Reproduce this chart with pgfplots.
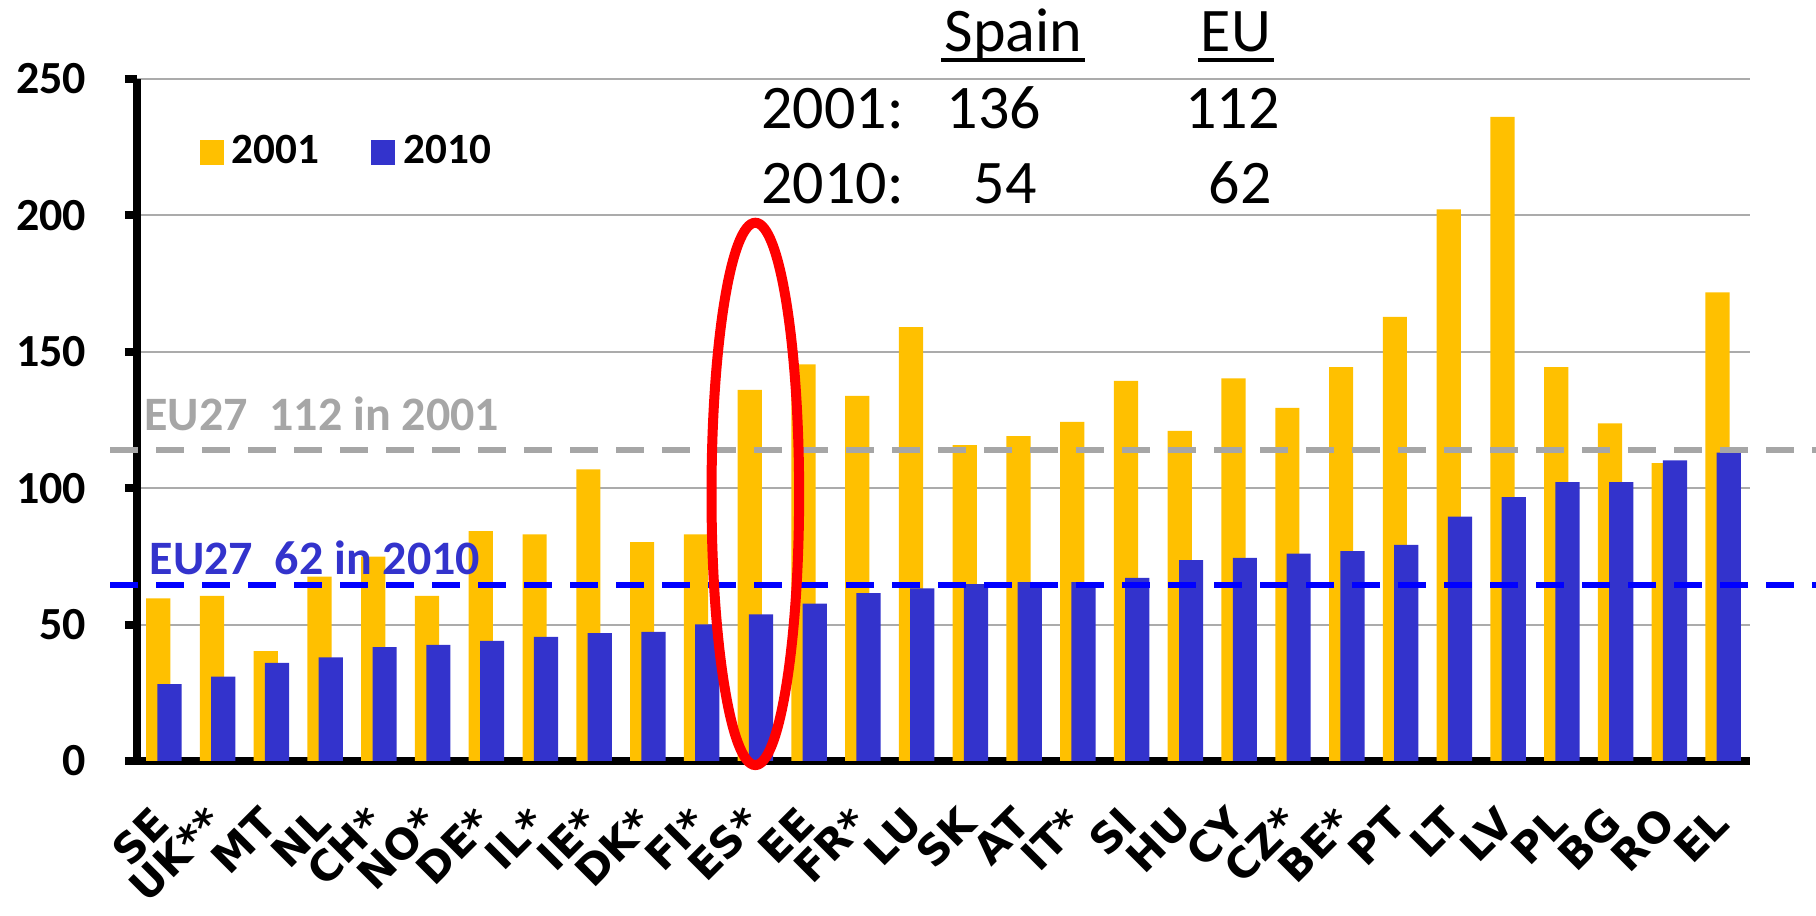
\documentclass[border=0pt]{standalone}
\usepackage{fontspec}
\setmainfont{Carlito}
\newfontfamily\labelfont{DejaVu Sans}
\usepackage{pgfplots}
\usepackage{pgfplotstable}
\pgfplotsset{compat=1.18}
\definecolor{barorange}{HTML}{FFC000}
\definecolor{barblue}{HTML}{3333CC}
\definecolor{refgray}{HTML}{A6A6A6}
\definecolor{gridgray}{HTML}{ABABAB}

% x  2001   2010
\pgfplotstableread{
x y01 y10
0 59.6 28.2
1 60.5 30.9
2 40.3 36.0
3 67.6 38.0
4 74.9 41.7
5 60.5 42.6
6 84.3 44.0
7 83.1 45.5
8 106.9 46.9
9 80.2 47.3
10 83.1 50.1
11 136.0 53.7
12 145.4 57.7
13 133.8 61.5
14 159.0 63.3
15 115.8 64.8
16 119.1 65.6
17 124.3 65.6
18 139.3 67.1
19 121.0 73.6
20 140.3 74.5
21 129.4 76.0
22 144.4 76.9
23 162.8 79.2
24 202.2 89.6
25 236.1 96.7
26 144.4 102.2
27 123.8 102.2
28 109.2 110.2
29 171.8 113.0
}\datatable

\begin{document}
\begin{tikzpicture}
\begin{axis}[
  scale only axis,
  width=403.25pt, height=170.5pt,
  xmin=-0.5, xmax=29.5, ymin=0, ymax=250,
  clip=false,
  axis x line*=bottom, axis y line*=left,
  x axis line style={line width=2pt},
  y axis line style={line width=2pt},
  ytick={0,50,100,150,200,250},
  xtick={0,...,29},
  xticklabels={SE,UK**,MT,NL,CH*,NO*,DE*,IL*,IE*,DK*,FI*,ES*,EE,FR*,LU,SK,AT,IT*,SI,HU,CY,CZ*,BE*,PT,LT,LV,PL,BG,RO,EL},
  xtick style={draw=none},
  ytick style={line width=2pt, black},
  tick align=outside,
  major tick length=3pt,
  ymajorgrids,
  grid style={gridgray, line width=0.5pt},
  /pgf/number format/assume math mode=true,
  yticklabel style={inner sep=0pt, anchor=east, xshift=-9.5pt, font=\fontsize{11.5}{13}\selectfont\bfseries},
  xticklabel style={inner sep=0pt, xshift=-0.5pt, yshift=-10.5pt, rotate=45, anchor=east, font=\labelfont\bfseries\fontsize{10.5}{12}\selectfont},
  legend columns=2,
  legend style={draw=none, fill=none, at={(0.0385,0.892)}, anchor=west, inner sep=0pt,
    font=\fontsize{10.8}{12}\selectfont\bfseries,
    /tikz/every even column/.append style={column sep=11pt}},
  legend image code/.code={\fill[#1] (0pt,-3.2pt) rectangle (6pt,3.2pt);},
]
\addplot[ybar, bar width=0.45, bar shift=-0.105, fill=barorange, draw=none] table[x=x, y=y01] {\datatable};
\addlegendentry{2001}
\addplot[ybar, bar width=0.45, bar shift=0.105, fill=barblue, draw=none] table[x=x, y=y10] {\datatable};
\addlegendentry{2010}

\addplot[refgray, line width=1.7pt, dash pattern=on 6.9pt off 4.6pt, forget plot] coordinates {(-1.0,114) (30.75,114)};
\addplot[blue, line width=1.7pt, dash pattern=on 6.9pt off 4.6pt, forget plot] coordinates {(-1.0,64.5) (30.75,64.5)};

\node[anchor=base west, inner sep=0pt, text=refgray, font=\fontsize{12}{14}\selectfont\bfseries] at (axis cs:-0.38,121.3) {EU27\ \ 112 in 2001};
\node[anchor=base west, inner sep=0pt, text=barblue, font=\fontsize{12}{14}\selectfont\bfseries] at (axis cs:-0.28,68.2) {EU27\ \ 62 in 2010};

\draw[red, line width=2.5pt] (axis cs:11,97.9) ellipse [x radius=0.815, y radius=99.4];

\begin{scope}[every node/.style={inner sep=0pt, font=\fontsize{15.5}{18}\selectfont}]
\node[anchor=base] (sp) at (axis cs:15.80,259.9) {Spain};
\node[anchor=base] (eu) at (axis cs:19.94,259.9) {EU};
\draw[line width=1pt] ([xshift=-0.6pt,yshift=-2pt]sp.base west) -- ([xshift=0.6pt,yshift=-2pt]sp.base east);
\draw[line width=1pt] ([xshift=-0.6pt,yshift=-2pt]eu.base west) -- ([xshift=0.6pt,yshift=-2pt]eu.base east);
\node[anchor=base west] at (axis cs:11.10,232.0) {2001:};
\node[anchor=base east] at (axis cs:16.33,232.0) {136};
\node[anchor=base east] at (axis cs:20.77,232.0) {112};
\node[anchor=base west] at (axis cs:11.10,204.2) {2010:};
\node[anchor=base east] at (axis cs:16.25,204.2) {54};
\node[anchor=base east] at (axis cs:20.62,204.2) {62};
\end{scope}
\end{axis}
\pgfresetboundingbox
\path (current axis.south west) ++(-34.25pt,-38.75pt) rectangle ([shift={(16.5pt,19.75pt)}]current axis.north east);
\end{tikzpicture}
\end{document}
